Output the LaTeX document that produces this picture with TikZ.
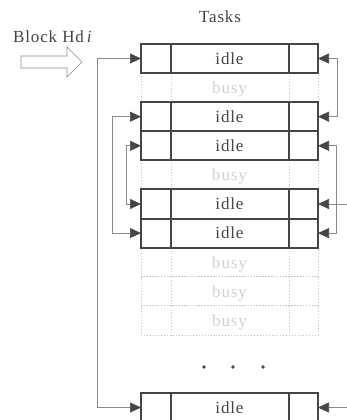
\documentclass[tikz,border=0pt]{standalone}
\usepackage{fontspec}
\setmainfont{Liberation Serif}[LetterSpace=5]
\usetikzlibrary{arrows.meta}

\definecolor{boxline}{HTML}{454545}
\definecolor{busyline}{HTML}{C4C4C4}
\definecolor{busytext}{HTML}{D0D0D0}
\definecolor{linkline}{HTML}{8A8A8A}
\definecolor{labeltext}{HTML}{444444}

\tikzset{
  tri/.tip={Triangle[length=11pt,width=10pt,color=boxline]},
  task/.style={draw, minimum width=177pt, minimum height=29.1pt, inner sep=0pt,
    outer sep=0pt, text height=11.6pt, text depth=0pt, font=\fontsize{17}{20}\selectfont},
  idlebox/.style={task, draw=boxline, line width=2pt, text=labeltext},
  busybox/.style={task, draw=busyline, dotted, line width=0.9pt, text=busytext},
  link/.style={draw=linkline, line width=0.7pt},
  heading/.style={text=labeltext, inner sep=0pt, font=\fontsize{17}{20}\selectfont}
}

\begin{document}
\begin{tikzpicture}[x=1pt,y=-1pt]
  \useasboundingbox (0,0) rectangle (346,420);
  % titles
  \node [heading, anchor=base] (tasks) at (220,23) {Tasks};
  \node [heading, anchor=base west] (blockhd) at (13,42) {Block Hd\textit{\,i}};
  \draw [link] (21,56) -- (67,56) -- (67,47) -- (82,62) -- (67,77) -- (67,68) -- (21,68) -- cycle;
  % busy rows
  \foreach \n in {2,5,8,9,10} {
    \node [busybox] (r\n) at (229.5,{58.5+29.1*(\n-1)}) {busy};
    \draw [busyline, dotted, line width=0.9pt] ([xshift=30]r\n.north west) -- ([xshift=30]r\n.south west)
      ([xshift=-29]r\n.north east) -- ([xshift=-29]r\n.south east);
  }
  % idle rows
  \foreach \n/\y in {1/58.5,3/116.7,4/145.8,6/204,7/233.1,11/407.5} {
    \node [idlebox] (r\n) at (229.5,\y) {idle};
    \draw [boxline, line width=2pt] ([xshift=30]r\n.north west) -- ([xshift=30]r\n.south west)
      ([xshift=-29]r\n.north east) -- ([xshift=-29]r\n.south east);
  }
  % dots
  \foreach \x in {204,233,263}
    \fill [boxline] (\x,367) circle (1.9);
  % links on the left
  \draw [link, tri-tri] (r1.west) -- ++(-44,0) |- (r11.west);
  \draw [link, tri-tri] (r3.west) -- ++(-29,0) |- (r7.west);
  \draw [link, tri-tri] (r4.west) -- ++(-15,0) |- (r6.west);
  % links on the right
  \draw [link, tri-tri] (r1.east) -- ++(19,0) |- (r3.east);
  \draw [link, tri-tri] (r4.east) -- ++(18,0) |- (r7.east);
  \coordinate (free6) at ([xshift=32]r6.east);
  \coordinate (free11) at ([xshift=32]r11.east);
  \draw [link, -tri] (free6) -- (r6.east);
  \draw [link, -tri] (free11) -- (r11.east);
\end{tikzpicture}
\end{document}
